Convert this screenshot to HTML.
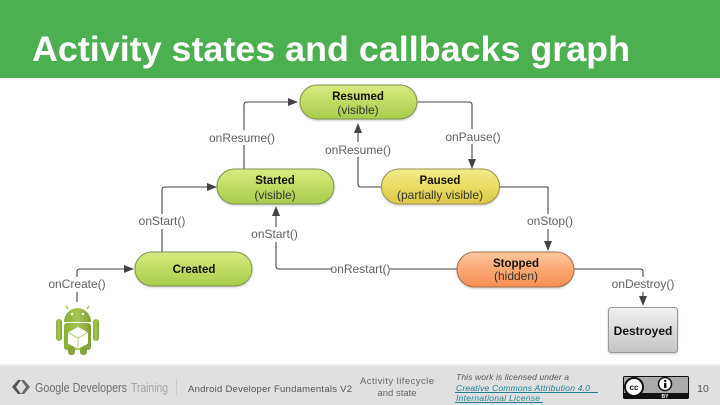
<!DOCTYPE html>
<html><head><meta charset="utf-8"><style>
html,body{margin:0;padding:0;background:#fff}
svg{display:block}
text{font-family:"Liberation Sans",sans-serif}
.n{filter:drop-shadow(0 1px 1px rgba(0,0,0,.22))}
</style></head><body>
<svg width="720" height="405" viewBox="0 0 720 405" xmlns="http://www.w3.org/2000/svg">
<defs>
<linearGradient id="g" x1="0" y1="0" x2="0" y2="1"><stop offset="0" stop-color="#d8ea82"/><stop offset=".5" stop-color="#c0dc62"/><stop offset="1" stop-color="#a8cc4e"/></linearGradient>
<linearGradient id="y" x1="0" y1="0" x2="0" y2="1"><stop offset="0" stop-color="#f2ec8e"/><stop offset=".5" stop-color="#e8dc62"/><stop offset="1" stop-color="#dcc646"/></linearGradient>
<linearGradient id="o" x1="0" y1="0" x2="0" y2="1"><stop offset="0" stop-color="#fcc8a0"/><stop offset=".5" stop-color="#fba874"/><stop offset="1" stop-color="#f58f52"/></linearGradient>
<linearGradient id="s" x1="0" y1="0" x2="0" y2="1"><stop offset="0" stop-color="#f1f1f1"/><stop offset="1" stop-color="#c4c4c4"/></linearGradient>
<linearGradient id="a" x1="0" y1="0" x2="1" y2="0"><stop offset="0" stop-color="#8aad3c"/><stop offset=".5" stop-color="#a6c654"/><stop offset="1" stop-color="#7f9f36"/></linearGradient>
</defs>
<rect width="720" height="405" fill="#fff"/>
<rect width="720" height="78" fill="#4caf50"/>
<text x="32" y="61" font-size="35" font-weight="700" fill="#fff" textLength="598" lengthAdjust="spacingAndGlyphs">Activity states and callbacks graph</text>

<g fill="none" stroke="#444" stroke-width="1.1">
<path d="M244 169V105q0-3 3-3H290"/>
<path d="M417 102H469q3 0 3 3V162"/>
<path d="M381 187H361q-3 0-3-3V131"/>
<path d="M162 252V190q0-3 3-3H210"/>
<path d="M457 269H279q-3 0-3-3V214"/>
<path d="M500 187H548V244"/>
<path d="M574 269H640q3 0 3 3V299"/>
<path d="M77 302V272q0-3 3-3H127"/>
</g>
<g fill="#444">
<path d="M298 102l-10-4v8z"/>
<path d="M472 169l-4-10h8z"/>
<path d="M358 123l-4 10h8z"/>
<path d="M217 187l-10-4v8z"/>
<path d="M276 206l-4 10h8z"/>
<path d="M548 251l-4-10h8z"/>
<path d="M643 306l-4-10h8z"/>
<path d="M134 269l-10-4v8z"/>
</g>

<g class="n" stroke="#7d9350" stroke-width="1">
<rect x="300" y="85" width="117" height="34" rx="17" fill="url(#g)"/>
<rect x="217" y="169" width="117" height="35" rx="17.500" fill="url(#g)"/>
<rect x="135" y="252" width="117" height="34" rx="17" fill="url(#g)"/>
<rect x="381.500" y="169" width="118" height="35" rx="17.500" fill="url(#y)" stroke="#9b9350"/>
<rect x="457" y="252" width="117" height="35" rx="17.500" fill="url(#o)" stroke="#a86f4e"/>
<rect x="608.500" y="307.500" width="69" height="45" rx="3" fill="url(#s)" stroke="#999"/>
</g>

<g text-anchor="middle" font-size="11.500" fill="#111">
<text x="358" y="100" font-weight="700">Resumed</text>
<text x="358" y="114" fill="#333" font-size="12">(visible)</text>
<text x="275" y="184" font-weight="700">Started</text>
<text x="275" y="199" fill="#333" font-size="12">(visible)</text>
<text x="194" y="273" font-weight="700">Created</text>
<text x="440" y="184" font-weight="700">Paused</text>
<text x="440" y="199" fill="#333" font-size="12">(partially visible)</text>
<text x="516" y="267" font-weight="700">Stopped</text>
<text x="516" y="280" fill="#333" font-size="12">(hidden)</text>
<text x="643" y="335" font-weight="700" font-size="12">Destroyed</text>
</g>

<g text-anchor="middle" font-size="12" fill="#606060">
<rect x="210" y="130" width="66" height="15" fill="#fff" stroke="none"/><text x="242" y="142">onResume()</text>
<rect x="445" y="129" width="56" height="15" fill="#fff"/><text x="473" y="141">onPause()</text>
<rect x="326" y="142" width="64" height="15" fill="#fff"/><text x="358" y="154">onResume()</text>
<rect x="139" y="214" width="46" height="15" fill="#fff"/><text x="162" y="225">onStart()</text>
<rect x="252" y="227" width="46" height="15" fill="#fff"/><text x="274.500" y="238">onStart()</text>
<rect x="332" y="262" width="58" height="15" fill="#fff"/><text x="360.500" y="273">onRestart()</text>
<rect x="528" y="214" width="46" height="15" fill="#fff"/><text x="550" y="225">onStop()</text>
<rect x="613" y="277" width="62" height="15" fill="#fff"/><text x="643" y="288">onDestroy()</text>
<rect x="50" y="277" width="56" height="15" fill="#fff"/><text x="77" y="288">onCreate()</text>
</g>

<!-- android -->
<g>
<path d="M68 309l-2-3M87 309l2-3" stroke="#a6c654" stroke-width="1.500"/>
<path d="M64 322a13.500 14 0 0 1 27 0z" fill="url(#a)"/>
<rect x="64" y="323" width="27" height="27" rx="3" fill="url(#a)"/>
<rect x="56" y="319" width="6" height="22" rx="3" fill="url(#a)"/>
<rect x="93" y="319" width="6" height="22" rx="3" fill="url(#a)"/>
<rect x="68" y="346" width="7" height="9" rx="3" fill="#86a63a"/>
<rect x="80" y="346" width="7" height="9" rx="3" fill="#86a63a"/>
<circle cx="72" cy="314" r="1.200" fill="#fff"/><circle cx="83" cy="314" r="1.200" fill="#fff"/>
<path d="M78 327l10 5.500v11l-10 5.500-10-5.500v-11z" fill="#fff"/>
<path d="M68 332.500l10 5.500 10-5.500M78 338v11" fill="none" stroke="#a6c654" stroke-width=".8"/>
</g>

<!-- footer -->
<rect y="364" width="720" height="41" fill="#e0e0e0"/>
<rect y="364" width="720" height="2" fill="#ececec"/>
<g fill="#555"><path d="M12 387l6-7h3l-5 7 5 7h-3z"/><path d="M30 387l-6-7h-3l5 7-5 7h3z" fill="#666"/></g>
<text x="35" y="392" font-size="12.500" fill="#6f6f6f" textLength="92" lengthAdjust="spacingAndGlyphs">Google Developers</text>
<text x="131" y="392" font-size="12.500" fill="#a2a2a2" textLength="37" lengthAdjust="spacingAndGlyphs">Training</text>
<rect x="176" y="379" width="1" height="17" fill="#ccc"/>
<text x="188" y="392" font-size="9.500" fill="#555" textLength="164" lengthAdjust="spacing">Android Developer Fundamentals V2</text>
<g text-anchor="middle" font-size="9.500" fill="#666">
<text x="397" y="384" textLength="74">Activity lifecycle</text>
<text x="397" y="396">and state</text>
</g>
<g font-size="8.500" font-style="italic" fill="#555">
<text x="456" y="380" textLength="113">This work is licensed under a</text>
<text x="456" y="391" fill="#1f7f8f" textLength="134">Creative Commons Attribution 4.0</text>
<text x="456" y="401" fill="#1f7f8f" textLength="84">International License</text>
</g>
<rect x="455" y="392" width="143" height="1" fill="#1f7f8f"/>
<rect x="455" y="402" width="88" height="1" fill="#1f7f8f"/>
<rect x="623" y="376" width="66" height="23" rx="1.500" fill="#111"/>
<rect x="624" y="377" width="64" height="16" fill="#aaa"/>
<circle cx="634" cy="387" r="9" fill="#fff" stroke="#111" stroke-width="2"/>
<text x="634" y="390" font-size="8" font-weight="700" text-anchor="middle" fill="#111">cc</text>
<circle cx="665" cy="384" r="6.500" fill="#fff" stroke="#111" stroke-width="1.500"/>
<rect x="664" y="383" width="2.500" height="5" fill="#111"/><circle cx="665.200" cy="381" r="1.200" fill="#111"/>
<text x="665" y="398" font-size="5" font-weight="700" text-anchor="middle" fill="#fff">BY</text>
<text x="703" y="392" font-size="10.500" text-anchor="middle" fill="#555">10</text>
</svg>
</body></html>
